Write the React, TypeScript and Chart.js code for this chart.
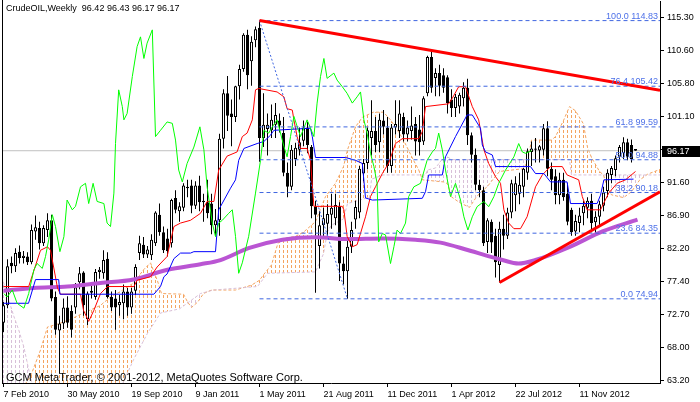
import React, { useEffect, useRef } from 'react';
import { Chart, registerables } from 'chart.js';

Chart.register(...registerables);

// ---------- weekly candles (week index 0 = 7 Feb 2010) ----------
const opens = [
  71.5, 74.0, 80.1, 79.6, 81.7, 80.8, 81.0, 80.2, 84.6, 85.1,
  82.9, 84.8, 86.2, 75.2, 70.4, 71.4, 73.7, 73.2, 73.7, 77.3,
  78.7, 72.0, 75.8, 75.2, 78.8, 78.6, 80.7, 75.2, 75.0, 74.0,
  74.3, 76.0, 73.7, 76.1, 81.5, 82.7, 81.3, 81.2, 82.9, 87.0,
  84.5, 83.6, 82.9, 89.4, 87.5, 88.0, 90.8, 91.2, 88.3, 91.2,
  88.8, 88.8, 88.6, 85.5, 86.2, 97.9, 104.4, 101.5, 101.0, 105.4,
  107.9, 112.8, 109.0, 112.0, 113.8, 98.0, 99.3, 99.1, 99.9, 100.5,
  98.7, 93.0, 91.0, 95.0, 96.3, 97.6, 99.5, 96.7, 88.2, 82.5,
  85.5, 85.7, 87.0, 86.5, 88.2, 80.0, 78.9, 82.4, 86.3, 87.3,
  92.9, 94.4, 98.0, 99.0, 97.4, 100.5, 99.5, 94.0, 99.5, 99.0,
  101.0, 98.5, 99.0, 100.0, 99.2, 97.5, 104.4, 109.6, 106.6, 107.3,
  107.0, 106.7, 103.5, 102.3, 102.5, 103.7, 105.2, 98.4, 95.6, 91.3,
  90.5, 83.1, 86.0, 84.0, 79.8, 85.0, 84.0, 87.3, 89.8, 90.0,
  91.0, 93.0, 96.0, 96.5, 96.2, 96.3, 99.4, 93.6, 92.5, 89.8,
  92.0, 90.0, 87.7, 84.6, 85.8, 87.2, 88.0, 89.0, 85.9, 86.7,
  88.3, 90.4, 92.7, 93.4, 95.3, 95.8, 97.4, 97.0, 96.42,
];
const highs = [
  74.5, 80.6, 81.0, 82.2, 82.6, 81.8, 81.6, 85.6, 86.9, 86.0,
  85.5, 87.2, 87.0, 76.0, 72.5, 75.0, 75.3, 74.0, 77.2, 79.5,
  78.9, 76.0, 77.0, 79.2, 79.5, 81.9, 81.6, 76.0, 76.2, 75.5,
  77.0, 76.5, 76.5, 79.9, 84.0, 83.8, 82.5, 84.2, 87.5, 88.6,
  85.3, 85.0, 89.3, 90.5, 88.8, 91.5, 92.0, 92.0, 91.8, 92.6,
  90.0, 92.0, 90.0, 87.8, 98.6, 105.0, 106.9, 103.5, 105.5, 108.5,
  113.0, 113.5, 112.6, 114.0, 114.83, 104.4, 101.5, 102.8, 103.0, 101.5,
  101.0, 94.5, 97.0, 97.3, 99.5, 100.5, 100.3, 97.0, 89.0, 87.5,
  88.0, 88.5, 90.0, 90.0, 88.8, 81.0, 83.5, 86.0, 89.0, 94.0,
  95.0, 99.5, 103.4, 101.0, 101.5, 102.0, 101.0, 100.0, 103.4, 103.4,
  101.6, 100.5, 102.5, 101.0, 101.3, 104.0, 109.8, 110.4, 108.0, 108.5,
  108.0, 107.0, 105.0, 104.3, 104.5, 106.0, 106.5, 98.8, 96.5, 92.0,
  91.0, 86.5, 86.3, 85.0, 86.0, 87.0, 88.0, 92.0, 92.5, 93.0,
  93.7, 96.5, 97.5, 98.0, 97.0, 100.0, 100.4, 94.5, 93.5, 93.0,
  93.0, 91.5, 88.0, 87.0, 88.0, 89.0, 89.5, 90.0, 87.5, 89.0,
  91.0, 93.5, 94.0, 95.5, 97.0, 98.1, 97.9, 97.8, 96.43,
];
const lows = [
  70.2, 73.6, 78.6, 78.8, 80.0, 80.0, 79.8, 79.9, 83.4, 82.0,
  82.5, 83.8, 74.6, 69.8, 64.2, 70.6, 70.8, 69.4, 72.8, 76.3,
  72.5, 71.2, 75.0, 74.8, 77.8, 77.8, 75.0, 73.2, 70.5, 72.5,
  72.0, 72.5, 72.8, 75.5, 80.5, 80.8, 80.8, 80.5, 82.5, 84.0,
  81.5, 81.0, 82.3, 87.2, 86.0, 87.5, 89.5, 87.2, 87.8, 87.5,
  86.0, 86.5, 84.2, 84.0, 84.0, 96.5, 99.0, 96.8, 100.3, 103.5,
  107.5, 105.0, 105.5, 111.0, 94.6, 96.7, 95.5, 98.0, 98.0, 98.8,
  92.5, 89.5, 90.5, 94.0, 95.5, 96.8, 95.8, 86.5, 75.8, 79.3,
  83.5, 84.0, 85.0, 85.5, 77.5, 77.0, 74.94, 81.5, 85.0, 86.5,
  91.8, 93.5, 95.5, 96.0, 96.0, 98.5, 93.0, 93.0, 98.5, 98.0,
  97.5, 97.5, 97.8, 95.5, 95.5, 97.0, 104.0, 104.5, 104.0, 104.0,
  104.5, 101.5, 101.0, 101.0, 101.5, 102.5, 97.0, 94.5, 90.5, 89.5,
  82.5, 81.5, 81.5, 78.0, 77.28, 82.0, 83.5, 86.5, 87.5, 88.5,
  89.5, 92.0, 94.0, 94.5, 94.5, 95.5, 92.5, 90.5, 88.5, 88.5,
  89.0, 85.5, 84.0, 84.0, 84.5, 85.5, 86.5, 84.5, 84.0, 85.5,
  87.5, 89.5, 91.5, 92.5, 94.5, 95.0, 94.8, 94.5, 96.17,
];
const closes = [
  74.0, 79.6, 79.6, 81.5, 80.8, 81.1, 80.2, 84.8, 85.2, 82.9,
  85.1, 86.2, 75.0, 70.5, 71.4, 73.7, 71.5, 70.5, 76.6, 78.6,
  74.0, 75.7, 76.1, 78.8, 79.1, 80.5, 75.2, 73.7, 73.7, 74.5,
  76.0, 73.7, 76.0, 79.5, 82.9, 81.3, 82.0, 83.4, 87.3, 84.5,
  81.9, 81.8, 89.1, 87.7, 88.2, 91.2, 91.0, 88.3, 91.2, 88.8,
  89.0, 87.2, 85.5, 86.2, 97.9, 104.4, 101.2, 101.0, 105.4, 107.9,
  112.8, 107.0, 111.8, 113.6, 98.0, 99.9, 99.9, 100.6, 101.3, 99.8,
  93.0, 91.0, 96.3, 96.6, 97.4, 99.5, 97.0, 88.2, 87.0, 85.5,
  86.5, 87.1, 88.0, 88.4, 80.0, 78.9, 82.4, 84.8, 88.1, 93.6,
  94.4, 99.1, 99.0, 97.0, 100.6, 99.6, 94.0, 99.5, 100.0, 101.5,
  98.5, 99.5, 99.8, 97.5, 97.4, 103.7, 109.6, 105.2, 107.3, 105.5,
  105.2, 103.0, 102.3, 103.9, 104.2, 105.2, 98.4, 95.6, 91.3, 90.5,
  82.9, 86.2, 83.0, 80.2, 85.0, 84.0, 87.3, 91.5, 91.5, 91.3,
  93.6, 96.1, 96.5, 96.3, 96.8, 99.4, 93.6, 92.0, 89.8, 92.0,
  89.5, 86.0, 84.5, 86.1, 86.9, 88.3, 89.0, 85.8, 86.7, 88.5,
  90.2, 93.0, 93.7, 95.1, 96.7, 97.4, 95.3, 95.0, 96.17,
];

// ---------- axes ----------
const weekMin = -0.375;
const weekMax = 164.125;
const priceMin = 62.87;
const priceMax = 117.64;
const dateTickWeeks = [0, 16, 32, 48, 64, 80, 96, 112, 128, 144];
const dateTickLabels = ['7 Feb 2010', '30 May 2010', '19 Sep 2010', '9 Jan 2011', '1 May 2011',
  '21 Aug 2011', '11 Dec 2011', '1 Apr 2012', '22 Jul 2012', '11 Nov 2012'];
const priceTicks = [63.2, 68.0, 72.7, 77.4, 82.2, 86.9, 91.6, 96.3, 101.1, 105.8, 110.6, 115.3];

// ---------- Ichimoku lines [week, price] ----------
const tenkanLine: [number, number][] = [
  [0, 76.7], [6.3, 76.7], [9.25, 81.9], [11, 82.4], [11.75, 81.9], [13.5, 76.5], [14.25, 75.6], [19.25, 75.6],
  [20, 73.3], [21.3, 71.7], [22.6, 73.3], [24.25, 75.7], [26, 76.7], [32.6, 76.7], [33.4, 77.6], [36.75, 78.1],
  [38.4, 79.5], [40.9, 81.0], [42.6, 85.3], [44.25, 85.8], [46.75, 86.2], [49.25, 87.2], [50.9, 88.9], [52.6, 88.9],
  [53.8, 93.4], [55.9, 95.4], [58.4, 96.0], [59.7, 98.2], [60.9, 98.7], [62.2, 100.6], [63, 104.9], [63.8, 105.1],
  [68.4, 104.6], [70.1, 103.9], [70.9, 102.2], [72.2, 102.0], [72.6, 100.6], [73.4, 98.2], [74.25, 96.5], [75.9, 96.5],
  [76.75, 94.8], [77.6, 88.2], [84.7, 88.2], [85.1, 87.7], [85.9, 83.9], [87.2, 82.4], [88.4, 82.7], [90.5, 86.7],
  [91.75, 89.6], [93, 91.0], [94.7, 92.9], [96.3, 94.4], [98, 97.2], [99.7, 97.9], [103.8, 97.9], [104.7, 98.9],
  [105.5, 102.5], [111.3, 102.9], [112.2, 103.7], [113.8, 105.35], [115.5, 105.35], [116.3, 104.0], [117.2, 102.5],
  [118.8, 100.6], [120.1, 96.3], [121.3, 94.35], [123, 92.45], [124.25, 91.5], [125.1, 87.7], [126.3, 85.8],
  [127.6, 85.0], [129.25, 85.0], [130.9, 86.7], [133, 91.0], [134.7, 92.7], [136.75, 93.9], [139.7, 93.9],
  [140.9, 92.7], [143.8, 92.0], [144.7, 89.6], [145.9, 87.7], [149.25, 87.7], [151.3, 90.1], [153.4, 91.5],
  [155.5, 92.0], [158, 93.2],
];
const kijunLine: [number, number][] = [
  [0, 74.3], [6.25, 74.3], [8, 77.7], [13.8, 77.7], [14.1, 75.6], [37.6, 75.6], [39.25, 76.7], [40.1, 78.1],
  [40.9, 78.5], [42.6, 80.7], [44.25, 81.5], [46.75, 81.5], [47.6, 81.7], [53, 81.7], [53.8, 87.7], [56.75, 90.8],
  [58, 92.0], [58.8, 94.8], [60.1, 96.5], [63.4, 97.2], [65.1, 97.5], [66.75, 98.4], [67.6, 99.1], [76.75, 99.4],
  [77.2, 98.2], [78, 95.2], [85.5, 95.2], [88, 94.8], [89.7, 94.35], [90.5, 89.4], [92.2, 89.1], [104.7, 89.35],
  [105.5, 90.3], [106.3, 92.7], [109.7, 92.7], [110.5, 95.3], [113, 98.2], [115.9, 101.3], [117.2, 101.3],
  [119.25, 99.4], [119.7, 97.0], [120.5, 96.0], [122.2, 95.56], [123, 93.9], [131.75, 93.9], [133, 92.9],
  [135.1, 92.9], [136.75, 91.7], [140.9, 91.7], [141.75, 88.6], [148.4, 88.6], [149.25, 89.8], [150.1, 92.0],
  [157.5, 92.1],
];
const chikouLine: [number, number][] = [
  [0.1, 75.7], [0.9, 75.2], [2.2, 76.2], [3.4, 74.3], [5.1, 73.6], [6.3, 75.7], [7.6, 79.1], [8.4, 80.0],
  [9.7, 79.3], [10.5, 81.0], [11.3, 83.4], [12.2, 87.0], [13, 85.3], [14.1, 81.7], [15.1, 83.85], [15.9, 89.1],
  [17.2, 87.7], [18, 88.2], [19.25, 91.0], [20.5, 91.5], [21.3, 88.6], [22.4, 91.5], [23.4, 88.9], [25.1, 88.6],
  [25.9, 85.8], [26.75, 85.3], [27.6, 90.1], [28, 97.2], [28.8, 104.9], [29.7, 102.5], [30.1, 100.6], [30.9, 101.5],
  [32.2, 106.8], [33.4, 111.1], [34.25, 112.5], [35.1, 109.4], [35.9, 111.6], [37.2, 113.5], [38, 98.2],
  [39.25, 99.1], [40.9, 100.3], [42.2, 100.1], [43, 97.7], [43.8, 93.4], [44.7, 91.7], [45.9, 94.35], [47.6, 96.7],
  [49.1, 99.6], [50.1, 96.3], [50.9, 91.0], [52.2, 85.8], [53, 83.85], [53.8, 85.8], [54.7, 86.2], [56.3, 87.2],
  [57.2, 87.7], [58, 83.9], [58.8, 78.6], [59.7, 80.1], [61.3, 83.9], [63, 90.1], [64.25, 94.8], [65.1, 99.1],
  [66.3, 98.7], [67.2, 99.6], [68.4, 100.6], [70.1, 96.8], [70.9, 95.3], [71.75, 98.2], [72.6, 101.1], [74.25, 98.2],
  [75.9, 100.6], [77.6, 98.2], [78.4, 103.0], [79.25, 106.8], [80.1, 109.4], [80.9, 106.55], [82.6, 107.3],
  [83.4, 106.3], [84.7, 105.35], [85.9, 104.4], [87.2, 103.0], [88.4, 103.9], [89.25, 104.6], [90.1, 100.6],
  [90.9, 98.7], [91.75, 95.8], [92.6, 93.9], [93.4, 91.5], [93.8, 83.1], [94.7, 84.3], [95.5, 84.1], [96.75, 80.0],
  [97.6, 82.4], [98.4, 84.8], [99.25, 84.3], [100.5, 85.8], [101.3, 89.6], [102.6, 91.0], [104.25, 91.5],
  [105.9, 94.8], [107.2, 96.0], [108, 96.5], [108.8, 98.7], [109.7, 96.3], [110.5, 93.4], [111.75, 89.6],
  [113, 91.5], [114.25, 89.1], [115.1, 86.7], [116.1, 84.8], [117.2, 86.7], [118.4, 88.15], [120.1, 88.9],
  [121.3, 88.15], [122.6, 89.6], [123.8, 91.5], [125.5, 93.4], [127.6, 95.3], [128.8, 97.2], [129.7, 96.0],
  [130.5, 95.8], [132, 96.17],
];
const spanALine: [number, number][] = [
  [-0.375, 58.0], [6.75, 63.8], [9.25, 67.6], [11, 70.9], [14, 71.4], [16.75, 72.0], [19.25, 72.7], [24.25, 74.0],
  [26.75, 75.2], [29.25, 76.0], [32.5, 77.2], [35, 79.1], [36.75, 80.1], [38.5, 77.5], [39.5, 75.7], [45, 75.6],
  [46, 74.5], [47, 73.7], [48.6, 74.5], [50, 75.7], [52, 76.2], [58, 76.2], [62, 76.9], [64, 77.6], [65, 78.4],
  [67, 79.8], [68.6, 82.9], [70, 83.6], [73, 83.9], [75, 84.5], [78, 86.0], [80.5, 89.6], [83, 91.5], [85, 93.9],
  [86, 96.3], [88, 99.6], [89.75, 101.0], [92.5, 101.7], [95, 101.7], [96.75, 100.6], [98.5, 99.1], [100, 97.7],
  [102.5, 94.8], [103.75, 93.5], [104.75, 92.0], [110, 91.7], [111, 91.45], [112, 89.55], [114, 88.75],
  [116.5, 88.05], [118, 89.35], [119, 90.05], [121, 91.05], [122, 91.8], [124, 93.2], [130, 93.6], [131, 94.6],
  [132, 97.7], [137, 97.7], [138, 98.2], [140, 100.5], [141.5, 102.5], [143, 101.9], [145, 100.0], [146, 96.65],
  [147, 95.2], [149, 93.2], [150, 92.7], [151, 90.8], [152, 89.85], [155, 89.45], [157, 90.3], [159, 91.95],
  [161, 92.8], [164.125, 93.5],
];
const spanBLine: [number, number][] = [
  [-0.375, 78.0], [1.3, 74.8], [2.6, 72.4], [3.8, 70.5], [5.1, 68.0], [6.6, 64.0], [8, 61.0], [28, 60.5],
  [32.5, 66.2], [36, 70.0], [39.25, 72.9], [44, 73.5], [49.25, 75.7], [52.5, 76.2], [63.5, 76.7], [66, 78.6],
  [78, 78.8], [80, 81.4], [81, 84.6], [82, 85.5], [85, 86.4], [86, 88.6], [91.5, 89.5], [92, 92.1], [95, 92.7],
  [105.5, 92.7], [106, 93.4], [108, 93.7], [110, 95.2], [111, 95.3], [112, 94.9], [141.5, 94.9], [142, 92.7],
  [164.125, 92.7],
];
const maLine: [number, number][] = [
  [0, 76.1], [7.5, 76.5], [16, 76.7], [24.25, 77.2], [32.5, 77.7], [41, 79.1], [49.25, 79.9], [54.25, 80.5],
  [61.25, 82.2], [69.75, 83.4], [78, 83.75], [86.25, 83.5], [94.75, 83.6], [103, 83.4], [109.25, 83.0],
  [116.25, 81.9], [124.75, 80.5], [128.75, 80.0], [133, 80.5], [141.25, 82.3], [149.75, 84.6], [158.5, 86.3],
];

// ---------- drawn objects ----------
const fibLevels = [114.83, 105.42, 99.59, 94.88, 90.18, 84.35, 74.94];
const fibRatios = ['100.0', '76.4', '61.8', '50.0', '38.2', '23.6', '0.0'];
const fibStartWeek = 64;
const fibDiagWeeks = [64, 86];
const fibDiagPrices = [114.83, 74.94];
const upperTrendWeeks = [64, 164.125];
const upperTrendPrices = [114.83, 104.85];
const lowerTrendWeeks = [124, 164.125];
const lowerTrendPrices = [77.28, 90.3];
const bidPrice = 96.17;
const titleText = 'CrudeOIL,Weekly  96.42 96.43 96.17 96.17';
const footerText = 'GCM MetaTrader, \u00a9 2001-2012, MetaQuotes Software Corp.';

const FONT = '"Liberation Sans", Arial, sans-serif';

function hatch(color: string): CanvasPattern | string {
  const c = document.createElement('canvas');
  c.width = 4;
  c.height = 5;
  const g = c.getContext('2d');
  if (!g) return color;
  g.fillStyle = color;
  g.fillRect(3, 0, 1, 3);
  return g.createPattern(c, 'repeat') || color;
}

const pts = (arr: [number, number][]) => arr.map(([x, y]) => ({ x, y }));

const lineDs = (label: string, data: any[], color: string, width: number, order: number, extra: any = {}) => ({
  type: 'line',
  label,
  data,
  borderColor: color,
  borderWidth: width,
  pointRadius: 0,
  pointHoverRadius: 0,
  tension: 0,
  fill: false,
  order,
  ...extra,
});

export default function App() {
  const ref = useRef<HTMLCanvasElement>(null);

  useEffect(() => {
    document.body.style.margin = '0';
    document.documentElement.style.overflow = 'hidden';
    const canvas = ref.current;
    if (!canvas) return;

    const orangeHatch = hatch('#F4A460');
    const thistleHatch = hatch('#D8BFD8');

    const datasets: any[] = [
      lineDs('SpanA', pts(spanALine), '#F4A460', 1, 31, {
        borderDash: [3, 2],
        backgroundColor: orangeHatch,
        fill: { target: 1, above: orangeHatch, below: thistleHatch },
      }),
      lineDs('SpanB', pts(spanBLine), '#D8BFD8', 1, 30, { borderDash: [3, 2] }),
      lineDs('Bid', [{ x: weekMin, y: bidPrice }, { x: weekMax, y: bidPrice }], '#C0C0C0', 1, 29),
      {
        type: 'bar',
        label: 'wicks',
        data: highs.map((h, i) => ({ x: i, y: [lows[i], h] })),
        backgroundColor: '#000',
        borderWidth: 0,
        barThickness: 1,
        grouped: false,
        inflateAmount: 0,
        order: 21,
      },
      {
        type: 'bar',
        label: 'bodies',
        data: opens.map((o, i) => ({ x: i, y: [o, closes[i]] })),
        backgroundColor: opens.map((o, i) => (closes[i] >= o ? '#FFFFFF' : '#000000')),
        borderColor: '#000',
        borderWidth: 1,
        borderSkipped: false,
        barThickness: 3,
        grouped: false,
        inflateAmount: 0,
        order: 20,
      },
      lineDs('MA', pts(maLine), '#BA55D3', 4, 12, { cubicInterpolationMode: 'monotone' }),
      lineDs('Kijun', pts(kijunLine), '#0000FF', 1, 11),
      lineDs('Tenkan', pts(tenkanLine), '#FF0000', 1, 11),
      lineDs('Chikou', pts(chikouLine), '#00FF00', 1, 10),
      ...fibLevels.map((lv, k) =>
        lineDs('fib' + fibRatios[k], [{ x: fibStartWeek, y: lv }, { x: weekMax, y: lv }], '#3F66E0', 1, 9, {
          borderDash: [4, 3],
        })
      ),
      lineDs('fibDiag', fibDiagWeeks.map((x, k) => ({ x, y: fibDiagPrices[k] })), '#3F66E0', 1, 8, {
        borderDash: [2, 2],
      }),
      lineDs('upperTrend', upperTrendWeeks.map((x, k) => ({ x, y: upperTrendPrices[k] })), '#FF0000', 3, 1),
      lineDs('lowerTrend', lowerTrendWeeks.map((x, k) => ({ x, y: lowerTrendPrices[k] })), '#FF0000', 3, 1),
    ];

    const overlay = {
      id: 'overlay',
      afterDraw(chart: any) {
        const { ctx, chartArea } = chart;
        const yScale = chart.scales.y;
        ctx.save();
        // left frame
        ctx.fillStyle = '#000';
        ctx.fillRect(chartArea.left, 0, 1, chartArea.bottom + 1);
        // fibonacci labels
        ctx.font = '9px ' + FONT;
        ctx.fillStyle = '#4D70E8';
        ctx.textAlign = 'right';
        ctx.textBaseline = 'alphabetic';
        fibLevels.forEach((lv, k) => {
          const py = Math.round(yScale.getPixelForValue(lv));
          ctx.fillText(fibRatios[k] + ' ' + lv.toFixed(2), chartArea.right - 2, py - 2);
        });
        // title
        ctx.fillStyle = '#000';
        ctx.textAlign = 'left';
        ctx.fillText(titleText, 6, 11);
        // footer
        ctx.font = '11px ' + FONT;
        ctx.fillText(footerText, 6, 381);
        // current price box
        const by = yScale.getPixelForValue(bidPrice);
        ctx.fillStyle = '#000';
        ctx.fillRect(chartArea.right + 2, Math.round(by) - 5, 40, 11);
        ctx.fillStyle = '#FFF';
        ctx.font = '9px ' + FONT;
        ctx.textBaseline = 'middle';
        ctx.fillText(bidPrice.toFixed(2), chartArea.right + 7, by + 0.5);
        ctx.restore();
      },
    };

    const chart = new Chart(canvas, {
      type: 'line',
      data: { datasets },
      options: {
        responsive: false,
        animation: false,
        devicePixelRatio: 1,
        events: [],
        layout: { padding: { left: 2, top: 1, right: 0, bottom: 0 }, autoPadding: false },
        plugins: { legend: { display: false }, tooltip: { enabled: false } },
        scales: {
          x: {
            type: 'linear',
            position: 'bottom',
            min: weekMin,
            max: weekMax,
            offset: false,
            grid: { drawOnChartArea: false, drawTicks: true, tickLength: 4, color: '#000', offset: false },
            border: { display: true, color: '#000', width: 1 },
            ticks: {
              autoSkip: false,
              maxRotation: 0,
              minRotation: 0,
              align: 'start',
              padding: 2,
              color: '#000',
              font: { family: FONT, size: 9 },
              callback: (v: any) => {
                const k = dateTickWeeks.indexOf(Number(v));
                return k >= 0 ? dateTickLabels[k] : '';
              },
            },
            afterBuildTicks: (s: any) => {
              s.ticks = dateTickWeeks.map((v) => ({ value: v }));
            },
            afterFit: (s: any) => {
              s.height = 19;
              s.paddingLeft = 0;
              s.paddingRight = 0;
            },
          },
          y: {
            type: 'linear',
            position: 'right',
            min: priceMin,
            max: priceMax,
            beginAtZero: false,
            grid: { drawOnChartArea: false, drawTicks: true, tickLength: 4, color: '#000' },
            border: { display: true, color: '#000', width: 1 },
            ticks: {
              padding: 3,
              color: '#000',
              font: { family: FONT, size: 9 },
              callback: (v: any) => Number(v).toFixed(2),
            },
            afterBuildTicks: (s: any) => {
              s.ticks = priceTicks.map((v) => ({ value: v }));
            },
            afterFit: (s: any) => {
              s.width = 40;
              s.paddingTop = 0;
              s.paddingBottom = 0;
            },
          },
        },
      } as any,
      plugins: [overlay],
    } as any);

    return () => chart.destroy();
  }, []);

  return (
    <canvas
      ref={ref}
      width={700}
      height={402}
      style={{ display: 'block', width: '700px', height: '402px' }}
    />
  );
}
